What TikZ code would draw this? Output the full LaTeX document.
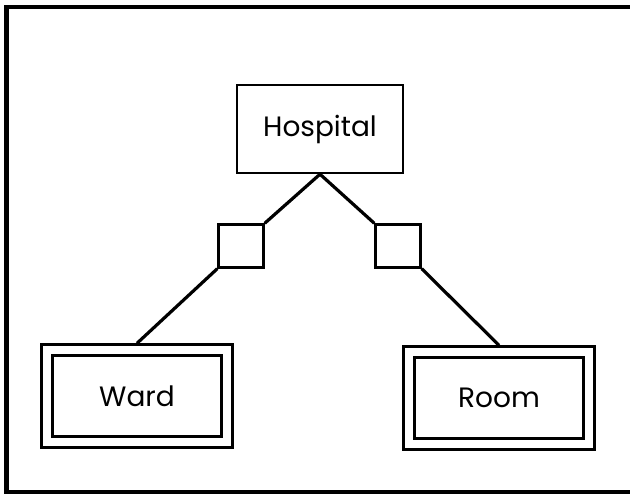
\documentclass[tikz,border=0pt]{standalone}
\usepackage{fontspec}
\setmainfont{Poppins}
\begin{document}
\begin{tikzpicture}[
    x=1pt, y=-1pt,
    entity/.style={rectangle, draw, line width=2.4pt, minimum width=166pt, minimum height=88pt, font=\fontsize{28}{32}\selectfont},
    weakentity/.style={rectangle, draw, line width=2.4pt, double, double distance=8.5pt, outer sep=6.7pt, minimum width=180pt, minimum height=92pt, font=\fontsize{28}{32}\selectfont},
    relbox/.style={rectangle, draw, line width=2.4pt, minimum width=45pt, minimum height=43pt},
    link/.style={line width=3.2pt}
  ]
    \useasboundingbox (0,0) rectangle (630,494);

    % Frame
    \draw[line width=4.5pt] (630,7) -- (6.5,7) -- (6.5,492) -- (630,492);

    % Entities
    \node[entity] (hospital) at (320,129) {Hospital};
    \node[weakentity] (ward) at (137,396) {Ward};
    \node[weakentity] (room) at (499,398) {Room};

    % Relationships
    \node[relbox] (wardrel) at (241,246) {};
    \node[relbox] (roomrel) at (398,246) {};

    % Connections
    \draw[link] (hospital.south) -- (wardrel.north east);
    \draw[link] (hospital.south) -- (roomrel.north west);
    \draw[link] (wardrel.south west) -- (ward.north);
    \draw[link] (roomrel.south east) -- (room.north);

  \end{tikzpicture}
\end{document}
